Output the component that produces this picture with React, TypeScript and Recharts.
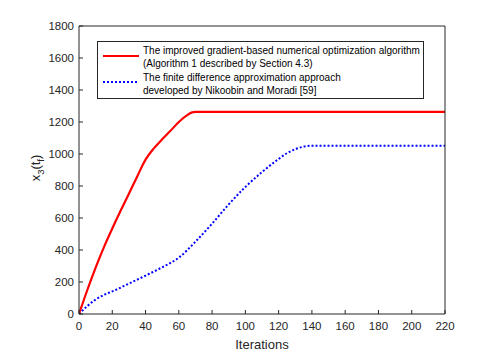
import React from 'react';
import { LineChart, Line, XAxis, YAxis, CartesianGrid } from 'recharts';

const redX = [0, 5, 10, 15, 20, 25, 30, 35, 40, 45, 50, 55, 60, 65, 68, 70, 220];
const redY = [0, 150, 290, 418, 534, 645, 752, 860, 965, 1035, 1092, 1145, 1200, 1243, 1260, 1263, 1263];
const blueX = [0, 5, 10, 15, 20, 30, 40, 50, 60, 70, 80, 90, 100, 110, 120, 125, 130, 135, 140, 220];
const blueY = [0, 50, 90, 120, 141, 190, 240, 292, 352, 452, 565, 685, 794, 887, 969, 1005, 1030, 1046, 1052, 1052];
const xTicks = [0, 20, 40, 60, 80, 100, 120, 140, 160, 180, 200, 220];
const yTicks = [0, 200, 400, 600, 800, 1000, 1200, 1400, 1600, 1800];
const redLabel = ['The improved gradient-based numerical optimization algorithm', '(Algorithm 1 described by Section 4.3)'];
const blueLabel = ['The finite difference approximation approach', 'developed by Nikoobin and Moradi [59]'];

const redData = redX.map((x, i) => ({ x, v: redY[i] }));
const blueData = blueX.map((x, i) => ({ x, v: blueY[i] }));

const FONT = '"Liberation Sans", Arial, Helvetica, sans-serif';
const AX = '#262626';

const BottomTick = (p: any) => (
  <g>
    <line x1={p.x} x2={p.x} y1={p.y} y2={p.y - 4} stroke={AX} strokeWidth={1} />
    <text x={p.x} y={p.y + 16} textAnchor="middle" fontSize={11.5} fill={AX} fontFamily={FONT}>{p.payload.value}</text>
  </g>
);
const TopTick = (p: any) => (
  <line x1={p.x} x2={p.x} y1={p.y} y2={p.y + 4} stroke={AX} strokeWidth={1} />
);
const LeftTick = (p: any) => (
  <g>
    <line x1={p.x} x2={p.x + 4} y1={p.y} y2={p.y} stroke={AX} strokeWidth={1} />
    <text x={p.x - 5} y={p.y + 4} textAnchor="end" fontSize={11.5} fill={AX} fontFamily={FONT}>{p.payload.value}</text>
  </g>
);
const RightTick = (p: any) => (
  <line x1={p.x} x2={p.x - 4} y1={p.y} y2={p.y} stroke={AX} strokeWidth={1} />
);

const LegendBox = () => (
  <div style={{ position: 'absolute', left: 97, top: 41, width: 327, height: 58, border: '1px solid #262626', background: '#fff', fontFamily: FONT, fontSize: 10, color: '#000', boxSizing: 'border-box', lineHeight: '13.3px' }}>
    <svg width={50} height={57} style={{ position: 'absolute', left: 0, top: 0 }}>
      <line x1={5} x2={41} y1={14} y2={14} stroke="#ff0000" strokeWidth={2} />
      <line x1={5} x2={41} y1={40} y2={40} stroke="#0000ff" strokeWidth={2} strokeDasharray="2 2" />
    </svg>
    <div style={{ position: 'absolute', left: 45, top: 2, whiteSpace: 'nowrap' }}>
      <div>{redLabel[0]}</div>
      <div>{redLabel[1]}</div>
      <div>{blueLabel[0]}</div>
      <div>{blueLabel[1]}</div>
    </div>
  </div>
);

export default function App() {
  return (
    <div style={{ position: 'absolute', left: 0, top: 0, width: 481, height: 354, background: '#fff' }}>
      <LineChart width={481} height={354} margin={{ top: 25, right: 35, bottom: 0, left: 0 }}>
        <CartesianGrid stroke="#e3e3e3" strokeWidth={1} horizontalValues={yTicks} verticalValues={xTicks} />
        <XAxis xAxisId="b" dataKey="x" type="number" domain={[0, 220]} ticks={xTicks} height={40} tickSize={0} tickMargin={0} tick={<BottomTick />} stroke={AX} allowDataOverflow
          label={{ value: 'Iterations', position: 'insideBottom', offset: 5, fontSize: 13, fill: AX, fontFamily: FONT }} />
        <XAxis xAxisId="t" orientation="top" dataKey="x" type="number" domain={[0, 220]} ticks={xTicks} height={1} tickSize={0} tickMargin={0} tick={<TopTick />} stroke={AX} />
        <YAxis yAxisId="l" type="number" domain={[0, 1800]} ticks={yTicks} width={79} tickSize={0} tickMargin={0} tick={<LeftTick />} stroke={AX} allowDataOverflow
          label={(props: any) => {
            const vb = props.viewBox;
            const cy = vb.y + vb.height / 2;
            return (
              <text x={0} y={0} transform={`translate(40, ${cy - 2}) rotate(-90)`} textAnchor="middle" fontSize={13} fill={AX} fontFamily={FONT}>
                x<tspan fontSize={9.5} dy={4}>3</tspan><tspan dy={-4}>(t</tspan><tspan fontSize={9.5} dy={4}>f</tspan><tspan dy={-4}>)</tspan>
              </text>
            );
          }} />
        <YAxis yAxisId="r" orientation="right" type="number" domain={[0, 1800]} ticks={yTicks} width={1} tickSize={0} tickMargin={0} tick={<RightTick />} stroke={AX} />
        <Line xAxisId="b" yAxisId="l" data={blueData} dataKey="v" type="monotone" stroke="#0000ff" strokeWidth={2} strokeDasharray="2 2" dot={false} isAnimationActive={false} />
        <Line xAxisId="b" yAxisId="l" data={redData} dataKey="v" type="monotone" stroke="#ff0000" strokeWidth={2.2} dot={false} isAnimationActive={false} />
      </LineChart>
      <LegendBox />
    </div>
  );
}
